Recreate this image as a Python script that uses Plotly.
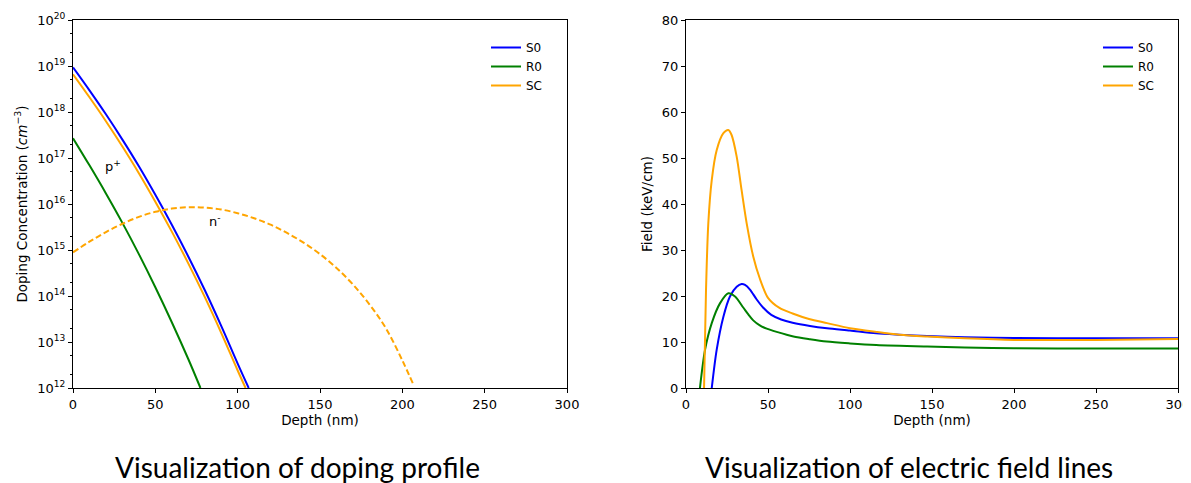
import plotly.graph_objects as go

# ---------------- data: doping profile (log10 of concentration, cm^-3) ----------------
s0_depth = [0, 10, 20, 30, 40, 50, 60, 70, 80, 90, 100, 106.7]
s0_log = [18.97, 18.47, 17.95, 17.40, 16.82, 16.2, 15.55, 14.86, 14.13, 13.35, 12.53, 12.0]

r0_depth = [0, 10, 20, 30, 40, 50, 60, 70, 77.4]
r0_log = [17.43, 16.84, 16.23, 15.59, 14.91, 14.19, 13.43, 12.63, 12.0]

sc_depth = [0, 10, 20, 30, 40, 50, 60, 70, 80, 90, 100, 104.8]
sc_log = [18.82, 18.32, 17.8, 17.25, 16.67, 16.05, 15.4, 14.71, 13.98, 13.2, 12.38, 12.0]

scn_depth = [0, 10, 20, 30, 40, 50, 60, 70, 80, 90, 100, 110, 120, 130, 140, 150,
             160, 170, 180, 190, 200, 207]
scn_log = [14.95, 15.18, 15.39, 15.57, 15.72, 15.83, 15.9, 15.93, 15.92, 15.88, 15.8,
           15.69, 15.55, 15.37, 15.16, 14.91, 14.61, 14.25, 13.82, 13.3, 12.6, 12.05]

# ---------------- data: electric field (keV/cm) ----------------
f_s0_depth = [15.7, 18.7, 22.8, 26.8, 30.9, 33.9, 36, 39, 43, 47, 52, 58, 65, 75.6,
              86, 100, 116, 130, 147, 170, 200, 250, 300]
f_s0 = [0, 8.3, 15.5, 19.9, 22.0, 22.6, 22.4, 21.4, 19.3, 17.5, 15.9, 14.9, 14.2, 13.5,
        13.0, 12.5, 11.9, 11.6, 11.3, 11.05, 10.85, 10.8, 10.8]

f_r0_depth = [8.5, 11.6, 15.7, 20.7, 25.8, 29.9, 34.9, 38, 41, 45, 49.2, 55.3, 65.5, 75.6,
              85.8, 100, 116, 147, 170, 200, 250, 300]
f_r0 = [0, 8.3, 14.1, 18.4, 20.6, 19.9, 17.5, 16.0, 14.7, 13.6, 12.9, 12.2, 11.2, 10.6,
        10.1, 9.7, 9.35, 9.0, 8.8, 8.65, 8.6, 8.6]

f_sc_depth = [11, 12.2, 13.6, 15.7, 18.7, 22.8, 25.8, 27.8, 30.9, 33.9, 37, 41, 45, 50,
              57, 65, 75, 86, 100, 116, 130, 147, 170, 200, 250, 300]
f_sc = [0, 21.3, 35.8, 45.2, 51.7, 55.4, 56.1, 55, 50.3, 43, 35.8, 28.6, 23.8, 19.6,
        17.4, 16.2, 15.0, 14.1, 13.0, 12.2, 11.6, 11.2, 10.8, 10.45, 10.45, 10.65]

series_names = ["S0", "R0", "SC"]
series_colors = ["#0000ff", "#008000", "#ffa500"]

decades = list(range(12, 21))
decade_labels = [f"10<sup>{d}</sup>" for d in decades]
depth_ticks = [0, 50, 100, 150, 200, 250, 300]
field_ticks = list(range(0, 81, 10))

FONT = "DejaVu Sans"

# The page body adds an 8px offset; all screen positions below are converted
# with that offset.
OFF = 8
W, H = 1191, 483 - OFF
ML, MT, MB = 52, 12, 95
MR = W - ML - 1126
PW, PH = W - ML - MR, H - MT - MB


def px(xs):  # screen x pixel -> paper fraction
    return (xs - OFF - ML) / PW


def py(ys):  # screen y pixel -> paper fraction
    return (H - MB - (ys - OFF)) / PH


fig = go.Figure()

dop = [(s0_depth, s0_log), (r0_depth, r0_log), (sc_depth, sc_log)]
for (xs, ls), name, col in zip(dop, series_names, series_colors):
    fig.add_trace(go.Scatter(
        x=xs, y=[10.0 ** v for v in ls], mode="lines", name=name,
        line=dict(color=col, width=2, shape="spline", smoothing=1.0),
        xaxis="x", yaxis="y", legend="legend"))

fig.add_trace(go.Scatter(
    x=scn_depth, y=[10.0 ** v for v in scn_log], mode="lines", name="SC n-",
    line=dict(color=series_colors[2], width=2, dash="6px,3px", shape="spline", smoothing=1.0),
    xaxis="x", yaxis="y", showlegend=False))

fld = [(f_s0_depth, f_s0), (f_r0_depth, f_r0), (f_sc_depth, f_sc)]
for (xs, ys), name, col in zip(fld, series_names, series_colors):
    fig.add_trace(go.Scatter(
        x=xs, y=ys, mode="lines", name=name,
        line=dict(color=col, width=2, shape="spline", smoothing=0.8),
        xaxis="x2", yaxis="y2", legend="legend2"))

axis_common = dict(
    showgrid=False, zeroline=False, showline=True, linecolor="black", linewidth=1,
    mirror=True, ticks="outside", ticklen=4, tickcolor="black", automargin=False,
    ticklabeloverflow="allow",
    tickfont=dict(family=FONT, size=13, color="black"),
)
title_font = dict(family=FONT, size=13.5, color="black")

fig.update_layout(
    width=W, height=H,
    margin=dict(l=ML, r=MR, t=MT, b=MB),
    paper_bgcolor="white", plot_bgcolor="white",
    font=dict(family=FONT, size=13, color="black"),
    xaxis=dict(domain=[px(73), px(567)], range=[0, 300], tickvals=depth_ticks,
               title=dict(text="Depth (nm)", font=title_font, standoff=4),
               anchor="y", **axis_common),
    yaxis=dict(domain=[0, 1], type="log", range=[12, 20],
               tickvals=[10.0 ** d for d in decades], ticktext=decade_labels,
               minor=dict(ticks="outside", ticklen=2, tickcolor="black", showgrid=False),
               title=dict(text="Doping Concentration (<i>cm</i><sup>−3</sup>)",
                          font=title_font, standoff=6),
               anchor="x", **axis_common),
    xaxis2=dict(domain=[px(686), px(1178)], range=[0, 300], tickvals=depth_ticks,
                title=dict(text="Depth (nm)", font=title_font, standoff=4),
                anchor="y2", **axis_common),
    yaxis2=dict(domain=[0, 1], range=[0, 80], tickvals=field_ticks,
                title=dict(text="Field (keV/cm)", font=title_font, standoff=6),
                anchor="x2", **axis_common),
    legend=dict(x=px(486), y=py(33), xanchor="left", yanchor="top",
                bgcolor="rgba(0,0,0,0)", font=dict(family=FONT, size=12), tracegroupgap=0,
                itemwidth=30),
    legend2=dict(x=px(1098), y=py(33), xanchor="left", yanchor="top",
                 bgcolor="rgba(0,0,0,0)", font=dict(family=FONT, size=12), tracegroupgap=0,
                 itemwidth=30),
    annotations=[
        dict(text="p<sup>+</sup>", x=24.3, y=16.83, xref="x", yref="y", showarrow=False,
             font=dict(family=FONT, size=13)),
        dict(text="n<sup>-</sup>", x=86.2, y=15.63, xref="x", yref="y", showarrow=False,
             font=dict(family=FONT, size=13)),
        dict(text="Visualization of doping pro\u200cfile", x=px(297), y=py(467),
             xref="paper", yref="paper", xanchor="center", yanchor="middle", showarrow=False,
             font=dict(family="Lato", size=28)),
        dict(text="Visualization of electric \u200cfi\u200celd lines", x=px(909), y=py(467),
             xref="paper", yref="paper", xanchor="center", yanchor="middle", showarrow=False,
             font=dict(family="Lato", size=28)),
    ],
)

fig.write_html("out.html")
